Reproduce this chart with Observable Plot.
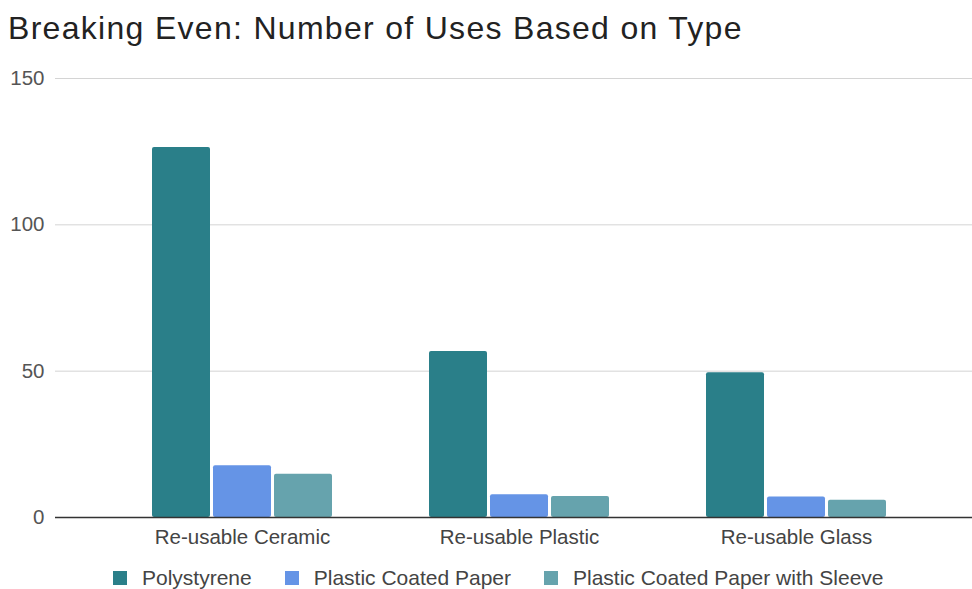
<!DOCTYPE html>
<html>
<head>
<meta charset="utf-8">
<script src="https://cdn.jsdelivr.net/npm/d3@7"></script>
<script src="https://cdn.jsdelivr.net/npm/@observablehq/plot@0.6"></script>
<style>
  html, body { margin: 0; padding: 0; background: #fff; }
  body { width: 972px; height: 589px; overflow: hidden; font-family: "Liberation Sans", Arial, Helvetica, sans-serif; position: relative; }
  #title { height: 58px; box-sizing: border-box; padding: 10px 0 0 8px; font-size: 32px; letter-spacing: 1.3px; color: #222; line-height: 36px; white-space: nowrap; }
  #chart svg { display: block; }
  #legend { position: absolute; left: 113px; top: 564px; display: flex; align-items: center; height: 28px; font-size: 21px; color: #444; white-space: nowrap; }
  .item { display: flex; align-items: center; margin-right: 33px; }
  .sw { width: 14px; height: 14px; margin-right: 15px; }
</style>
</head>
<body>
<div id="title">Breaking Even: Number of Uses Based on Type</div>
<div id="chart"></div>
<div id="legend"></div>
<script>
const categories = ["Re-usable Ceramic", "Re-usable Plastic", "Re-usable Glass"];
const seriesNames = ["Polystyrene", "Plastic Coated Paper", "Plastic Coated Paper with Sleeve"];
const polystyrene = [126.4, 56.7, 49.5];
const coatedPaper = [17.7, 7.8, 7.0];
const withSleeve = [14.8, 7.2, 5.9];
const yTicks = [0, 50, 100, 150];
const colors = ["#2a7f89", "#6594e6", "#66a3ad"];

const seriesValues = [polystyrene, coatedPaper, withSleeve];
const rows = seriesNames.map((s, i) => categories.map((c, j) => ({category: c, series: s, value: seriesValues[i][j]})));

const width = 972, height = 494;
const bandwidth = 180, gap = 3;
const barW = (bandwidth - 2 * gap) / 3;

const marks = [
  Plot.ruleY(yTicks.filter(d => d > 0), {stroke: "#d4d4d4", strokeWidth: 1}),
  ...rows.map((data, i) => Plot.barY(data, {
    x: "category", y: "value", fill: colors[i], rx: 2,
    insetLeft: i * (barW + gap), insetRight: (2 - i) * (barW + gap)
  })),
  Plot.ruleY([0], {stroke: "#333", strokeWidth: 1.3})
];

const chart = Plot.plot({
  width, height,
  marginLeft: 55, marginRight: 0, marginTop: 20, marginBottom: 35,
  style: {fontFamily: "Liberation Sans, Arial, Helvetica, sans-serif", fontSize: "20.5px", color: "#555", background: "#fff", overflow: "visible"},
  x: {domain: categories, range: [103, 935.5], paddingInner: 97.5 / 277.5, paddingOuter: 97.5 / 277.5 / 2, label: null, tickSize: 0, tickPadding: 12},
  y: {domain: [0, 150], ticks: yTicks, label: null, tickSize: 0, tickPadding: 11},
  marks
});
d3.select(chart).selectAll("g[aria-label='x-axis tick label'] text, g[aria-label='x-axis'] text").attr("fill", "#444");
document.getElementById("chart").appendChild(chart);

const legend = d3.select("#legend");
seriesNames.forEach((s, i) => {
  const it = legend.append("div").attr("class", "item");
  it.append("div").attr("class", "sw").style("background", colors[i]);
  it.append("span").text(s);
});
</script>
</body>
</html>
